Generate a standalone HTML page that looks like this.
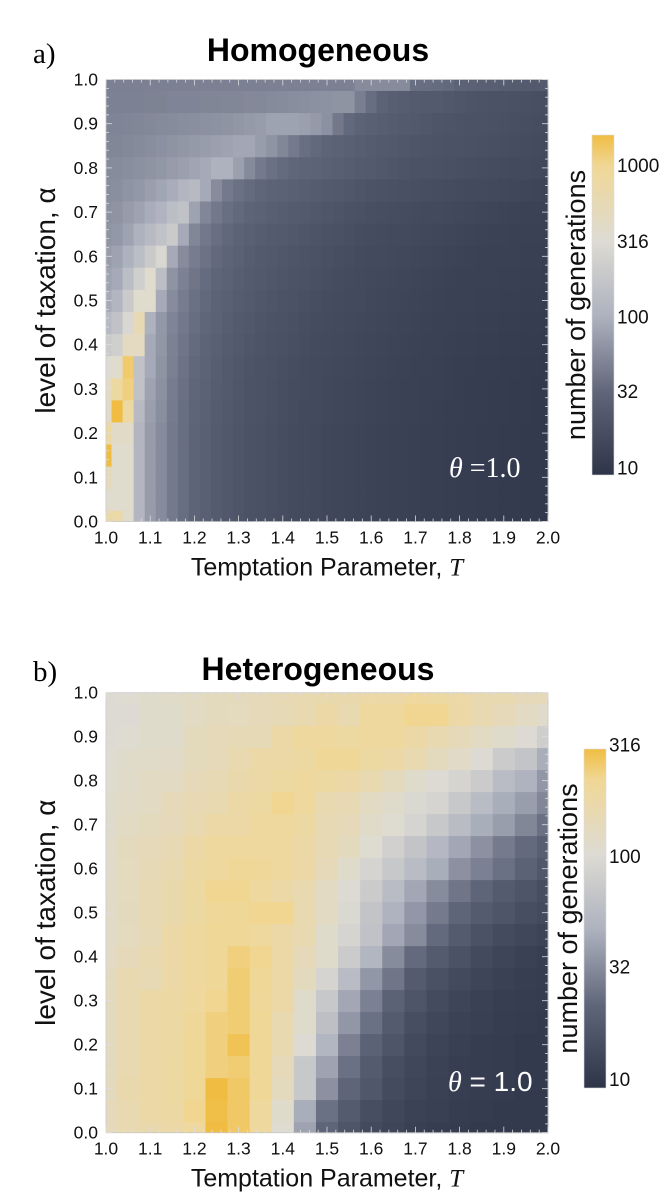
<!DOCTYPE html>
<html><head><meta charset="utf-8"><style>
html,body{margin:0;padding:0;background:#fff;}
svg{display:block;font-family:"Liberation Sans",sans-serif;}
</style></head><body>
<svg id="fig" width="664" height="1200" viewBox="0 0 664 1200" xmlns="http://www.w3.org/2000/svg">
<defs>
<linearGradient id="cbar" x1="0" y1="1" x2="0" y2="0">
<stop offset="0" stop-color="#2f3549"/><stop offset="0.244" stop-color="#60667a"/><stop offset="0.467" stop-color="#aeb2bf"/><stop offset="0.69" stop-color="#dddbd3"/><stop offset="0.91" stop-color="#f0d795"/><stop offset="1" stop-color="#f0bd42"/>
</linearGradient>
</defs>
<text x="33" y="63" font-family="Liberation Serif,serif" font-size="29">a)</text>
<text x="318" y="61" font-size="32" font-weight="bold" text-anchor="middle">Homogeneous</text>
<text x="33" y="681" font-family="Liberation Serif,serif" font-size="29">b)</text>
<text x="318" y="680" font-size="32" font-weight="bold" text-anchor="middle">Heterogeneous</text>
<g id="pA"></g>
<g id="pB"></g>
</svg>
<script>
const homTValues = [1.0,1.025,1.05,1.075,1.1,1.125,1.15,1.175,1.2,1.225,1.25,1.275,1.3,1.325,1.35,1.375,1.4,1.425,1.45,1.475,1.5,1.525,1.55,1.575,1.6,1.625,1.65,1.675,1.7,1.725,1.75,1.775,1.8,1.825,1.85,1.875,1.9,1.925,1.95,1.975,2.0];
const alphaValues = [0,0.05,0.1,0.15,0.2,0.25,0.3,0.35,0.4,0.45,0.5,0.55,0.6,0.65,0.7,0.75,0.8,0.85,0.9,0.95,1.0];
const hetTValues = [1.0,1.05,1.1,1.15,1.2,1.25,1.3,1.35,1.4,1.45,1.5,1.55,1.6,1.65,1.7,1.75,1.8,1.85,1.9,1.95,2.0];
const tickLabels = ["1.0","1.1","1.2","1.3","1.4","1.5","1.6","1.7","1.8","1.9","2.0"];
const yTickLabels = ["0.0","0.1","0.2","0.3","0.4","0.5","0.6","0.7","0.8","0.9","1.0"];
const homCbarTicks = [10,32,100,316,1000];
const hetCbarTicks = [10,32,100,316];
// log10(number of generations), rows from alpha=0 (first) to alpha=1 (last)
const homLog10Gen = [
[2.85,2.85,2.55,2.05,1.85,1.75,1.63,1.55,1.48,1.43,1.38,1.34,1.31,1.28,1.26,1.24,1.22,1.2,1.18,1.17,1.15,1.14,1.13,1.12,1.11,1.1,1.09,1.08,1.07,1.06,1.06,1.05,1.04,1.04,1.03,1.03,1.02,1.02,1.01,1.01,1.0],
[2.55,2.55,2.55,2.05,1.85,1.75,1.63,1.55,1.48,1.43,1.38,1.34,1.31,1.28,1.26,1.24,1.22,1.2,1.18,1.17,1.15,1.14,1.13,1.12,1.11,1.1,1.09,1.08,1.07,1.06,1.06,1.05,1.04,1.04,1.03,1.03,1.02,1.02,1.01,1.01,1.0],
[2.7,2.55,2.55,2.05,1.85,1.75,1.63,1.55,1.48,1.43,1.38,1.34,1.31,1.28,1.26,1.24,1.22,1.2,1.18,1.17,1.15,1.14,1.13,1.12,1.11,1.1,1.09,1.08,1.07,1.06,1.06,1.05,1.04,1.04,1.03,1.03,1.02,1.02,1.01,1.01,1.0],
[3.2,2.55,2.55,2.05,1.85,1.75,1.63,1.55,1.48,1.43,1.38,1.34,1.31,1.28,1.26,1.24,1.22,1.2,1.18,1.17,1.15,1.14,1.13,1.12,1.11,1.1,1.09,1.08,1.07,1.06,1.06,1.05,1.04,1.04,1.03,1.03,1.02,1.02,1.01,1.01,1.0],
[2.9,2.6,2.6,2.05,1.85,1.75,1.63,1.55,1.48,1.43,1.38,1.34,1.31,1.28,1.26,1.24,1.22,1.2,1.18,1.17,1.15,1.14,1.13,1.12,1.11,1.1,1.09,1.08,1.07,1.06,1.06,1.05,1.04,1.04,1.03,1.03,1.02,1.02,1.01,1.01,1.0],
[2.6,3.2,2.9,2.1,1.87,1.77,1.64,1.56,1.49,1.44,1.39,1.35,1.32,1.29,1.27,1.25,1.23,1.21,1.19,1.18,1.16,1.15,1.14,1.13,1.12,1.11,1.1,1.09,1.08,1.07,1.06,1.05,1.05,1.04,1.04,1.03,1.03,1.02,1.02,1.01,1.0],
[2.65,2.9,3.05,2.2,1.9,1.78,1.65,1.57,1.5,1.45,1.4,1.36,1.32,1.29,1.27,1.25,1.23,1.21,1.2,1.18,1.16,1.15,1.14,1.13,1.12,1.11,1.1,1.09,1.08,1.07,1.07,1.06,1.05,1.04,1.04,1.03,1.03,1.02,1.02,1.01,1.01],
[2.5,2.55,3.1,2.2,1.95,1.8,1.67,1.58,1.51,1.46,1.41,1.37,1.33,1.3,1.28,1.26,1.24,1.22,1.2,1.19,1.17,1.16,1.15,1.14,1.13,1.12,1.11,1.1,1.09,1.08,1.07,1.06,1.05,1.05,1.04,1.04,1.03,1.03,1.02,1.02,1.01],
[2.3,2.35,2.65,2.65,1.95,1.82,1.68,1.6,1.53,1.48,1.43,1.39,1.35,1.32,1.3,1.28,1.26,1.24,1.22,1.2,1.19,1.17,1.16,1.15,1.14,1.13,1.12,1.11,1.1,1.09,1.08,1.07,1.06,1.06,1.05,1.05,1.04,1.04,1.03,1.03,1.02],
[2.1,2.2,2.45,2.75,2.0,1.83,1.7,1.62,1.55,1.5,1.45,1.41,1.37,1.34,1.31,1.29,1.27,1.25,1.23,1.21,1.2,1.18,1.17,1.16,1.15,1.14,1.13,1.12,1.11,1.1,1.09,1.08,1.07,1.07,1.06,1.06,1.05,1.05,1.04,1.04,1.03],
[1.95,2.05,2.3,2.55,2.55,1.95,1.75,1.65,1.57,1.52,1.47,1.43,1.39,1.36,1.33,1.31,1.29,1.27,1.25,1.23,1.21,1.2,1.19,1.18,1.16,1.15,1.14,1.13,1.12,1.11,1.1,1.09,1.08,1.08,1.07,1.07,1.06,1.06,1.05,1.05,1.04],
[1.9,1.95,2.15,2.35,2.55,2.15,1.8,1.68,1.6,1.54,1.49,1.45,1.41,1.38,1.35,1.33,1.31,1.29,1.27,1.25,1.23,1.21,1.2,1.19,1.17,1.16,1.15,1.14,1.13,1.12,1.11,1.1,1.09,1.09,1.08,1.08,1.07,1.07,1.06,1.06,1.05],
[1.85,1.9,2.0,2.15,2.3,2.45,1.95,1.75,1.65,1.58,1.52,1.48,1.44,1.4,1.37,1.35,1.33,1.31,1.29,1.27,1.25,1.23,1.22,1.2,1.19,1.18,1.17,1.16,1.15,1.14,1.13,1.12,1.11,1.1,1.09,1.09,1.08,1.08,1.07,1.07,1.06],
[1.8,1.83,1.9,2.0,2.1,2.2,2.3,1.95,1.72,1.62,1.56,1.51,1.47,1.43,1.4,1.38,1.36,1.34,1.32,1.3,1.28,1.26,1.24,1.22,1.21,1.2,1.19,1.18,1.17,1.16,1.15,1.14,1.13,1.12,1.11,1.1,1.1,1.09,1.09,1.08,1.08],
[1.78,1.8,1.85,1.9,1.97,2.03,2.15,2.2,1.9,1.72,1.62,1.56,1.52,1.48,1.45,1.42,1.4,1.38,1.36,1.34,1.32,1.3,1.28,1.26,1.24,1.23,1.22,1.21,1.2,1.19,1.18,1.17,1.16,1.15,1.14,1.13,1.12,1.11,1.1,1.1,1.09],
[1.76,1.77,1.8,1.83,1.87,1.92,1.97,2.05,2.1,1.95,1.75,1.63,1.57,1.53,1.5,1.47,1.45,1.43,1.41,1.39,1.37,1.35,1.33,1.31,1.29,1.27,1.26,1.25,1.24,1.23,1.22,1.21,1.2,1.19,1.18,1.17,1.16,1.15,1.14,1.13,1.12],
[1.74,1.75,1.76,1.78,1.8,1.82,1.85,1.88,1.91,1.95,2.0,2.0,1.88,1.74,1.63,1.57,1.53,1.5,1.48,1.46,1.44,1.42,1.4,1.38,1.36,1.34,1.32,1.3,1.28,1.27,1.26,1.25,1.24,1.23,1.22,1.21,1.2,1.19,1.18,1.17,1.16],
[1.72,1.72,1.73,1.74,1.76,1.78,1.8,1.82,1.84,1.86,1.88,1.9,1.93,1.93,1.86,1.8,1.72,1.63,1.56,1.52,1.48,1.45,1.43,1.41,1.39,1.37,1.35,1.33,1.31,1.3,1.29,1.28,1.27,1.26,1.25,1.24,1.23,1.22,1.21,1.2,1.19],
[1.7,1.7,1.71,1.72,1.73,1.74,1.75,1.76,1.77,1.78,1.79,1.8,1.82,1.84,1.86,1.9,1.9,1.9,1.88,1.84,1.78,1.62,1.52,1.46,1.43,1.41,1.39,1.37,1.35,1.33,1.31,1.3,1.29,1.28,1.27,1.26,1.25,1.24,1.23,1.22,1.21],
[1.68,1.68,1.68,1.68,1.69,1.69,1.7,1.7,1.7,1.71,1.71,1.72,1.72,1.73,1.73,1.74,1.75,1.76,1.77,1.78,1.79,1.8,1.8,1.66,1.55,1.47,1.42,1.4,1.38,1.37,1.36,1.34,1.32,1.3,1.29,1.28,1.27,1.26,1.25,1.24,1.23],
[1.67,1.67,1.67,1.67,1.67,1.67,1.67,1.67,1.67,1.67,1.67,1.67,1.67,1.67,1.67,1.67,1.67,1.67,1.67,1.67,1.67,1.67,1.67,1.75,1.75,1.75,1.75,1.75,1.56,1.55,1.54,1.52,1.47,1.45,1.43,1.42,1.4,1.39,1.38,1.37,1.36]
];
const hetLog10Gen = [
[2.15,2.2,2.22,2.25,2.3,2.5,2.42,2.3,2.02,1.6,1.32,1.2,1.12,1.08,1.04,1.02,1.01,1.0,1.0,1.0,1.0],
[2.15,2.2,2.25,2.27,2.35,2.47,2.42,2.3,2.05,1.65,1.38,1.25,1.15,1.1,1.06,1.04,1.02,1.01,1.0,1.0,1.0],
[2.12,2.22,2.25,2.28,2.33,2.48,2.42,2.33,2.12,1.85,1.52,1.32,1.22,1.13,1.08,1.05,1.03,1.02,1.01,1.0,1.0],
[2.12,2.2,2.25,2.28,2.33,2.38,2.4,2.33,2.15,1.85,1.6,1.38,1.25,1.15,1.1,1.06,1.03,1.02,1.01,1.0,1.0],
[2.12,2.2,2.25,2.27,2.33,2.38,2.45,2.33,2.2,2.0,1.7,1.45,1.3,1.2,1.12,1.07,1.04,1.02,1.01,1.0,1.0],
[2.12,2.2,2.25,2.27,2.32,2.38,2.4,2.33,2.2,2.05,1.78,1.55,1.38,1.25,1.15,1.1,1.06,1.04,1.02,1.01,1.0],
[2.12,2.2,2.25,2.27,2.3,2.35,2.4,2.32,2.25,2.05,1.85,1.62,1.45,1.3,1.2,1.13,1.08,1.05,1.03,1.02,1.01],
[2.12,2.2,2.18,2.25,2.3,2.33,2.4,2.33,2.25,2.12,1.95,1.75,1.55,1.4,1.25,1.17,1.12,1.08,1.05,1.03,1.02],
[2.1,2.15,2.2,2.25,2.3,2.33,2.38,2.35,2.25,2.15,2.05,1.88,1.7,1.5,1.35,1.25,1.18,1.12,1.08,1.05,1.03],
[2.08,2.13,2.17,2.25,2.3,2.33,2.33,2.3,2.25,2.2,2.05,1.95,1.8,1.62,1.5,1.35,1.25,1.18,1.13,1.1,1.07],
[2.08,2.12,2.18,2.22,2.28,2.32,2.33,2.35,2.35,2.2,2.1,1.98,1.82,1.68,1.55,1.42,1.32,1.25,1.2,1.15,1.12],
[2.08,2.13,2.18,2.22,2.28,2.35,2.35,2.3,2.25,2.2,2.1,2.0,1.88,1.75,1.62,1.5,1.4,1.32,1.25,1.2,1.15],
[2.07,2.13,2.17,2.2,2.27,2.3,2.33,2.32,2.3,2.25,2.15,2.05,1.95,1.85,1.75,1.65,1.52,1.45,1.38,1.3,1.22],
[2.07,2.12,2.15,2.18,2.25,2.3,2.3,2.3,2.3,2.25,2.18,2.12,2.02,1.92,1.82,1.72,1.62,1.52,1.42,1.35,1.28],
[2.05,2.1,2.12,2.15,2.2,2.25,2.25,2.3,2.3,2.27,2.18,2.15,2.07,2.02,1.95,1.85,1.75,1.65,1.58,1.48,1.38],
[2.05,2.08,2.1,2.15,2.18,2.2,2.25,2.28,2.35,2.3,2.2,2.18,2.1,2.05,1.98,1.95,1.85,1.75,1.65,1.58,1.48],
[2.03,2.07,2.1,2.1,2.15,2.18,2.22,2.25,2.28,2.3,2.28,2.25,2.2,2.12,2.05,2.0,1.95,1.88,1.75,1.68,1.55],
[2.02,2.05,2.07,2.08,2.12,2.15,2.2,2.25,2.25,2.28,2.33,2.33,2.28,2.25,2.2,2.12,2.08,2.0,1.88,1.82,1.65],
[2.0,2.02,2.05,2.05,2.12,2.15,2.17,2.17,2.25,2.3,2.3,2.28,2.3,2.3,2.25,2.2,2.15,2.1,2.05,2.0,1.9],
[2.0,2.0,2.05,2.05,2.1,2.12,2.13,2.15,2.17,2.2,2.25,2.2,2.3,2.3,2.35,2.35,2.25,2.2,2.15,2.1,2.05],
[2.0,2.02,2.05,2.08,2.1,2.12,2.12,2.15,2.18,2.2,2.22,2.22,2.25,2.25,2.3,2.28,2.25,2.2,2.2,2.15,2.15]
];

const NS = "http://www.w3.org/2000/svg";
const stops = [[0,[0x2f,0x35,0x49]],[0.244,[0x60,0x66,0x7a]],[0.467,[0xae,0xb2,0xbf]],[0.69,[0xdd,0xdb,0xd3]],[0.91,[0xf0,0xd7,0x95]],[1,[0xf0,0xbd,0x42]]];
function cmap(t){
  t=Math.max(0,Math.min(1,t));
  for(let i=1;i<stops.length;i++){
    if(t<=stops[i][0]){
      const a=stops[i-1],b=stops[i],f=(t-a[0])/(b[0]-a[0]);
      const c=a[1].map((v,k)=>Math.round(v+(b[1][k]-v)*f));
      return "rgb("+c.join(",")+")";
    }
  }
  return "rgb(240,189,66)";
}
function mk(tag,attrs,parent){const e=document.createElementNS(NS,tag);for(const k in attrs)e.setAttribute(k,attrs[k]);parent.appendChild(e);return e;}

function panel(g,cfg){
  const xS=v=>cfg.x0+(v-1)*(cfg.x1-cfg.x0);
  const yS=v=>cfg.yb-v*(cfg.yb-cfg.yt);
  const cS=L=>(L-cfg.lmin)/(cfg.lmax-cfg.lmin);
  const dx=cfg.tv[1]-cfg.tv[0], da=alphaValues[1]-alphaValues[0];
  cfg.data.forEach((row,i)=>{
    row.forEach((L,j)=>{
      const T=cfg.tv[j], A=alphaValues[i];
      const xa=xS(Math.max(1,T-dx/2)), xb=xS(Math.min(2,T+dx/2));
      const ya=yS(Math.min(1,A+da/2)), yb=yS(Math.max(0,A-da/2));
      const r=mk("rect",{x:xa.toFixed(2),y:ya.toFixed(2),width:(xb-xa+0.4).toFixed(2),height:(yb-ya+0.4).toFixed(2),fill:cmap(cS(L))},g);
      
      
    });
  });
  const fr=mk("rect",{x:cfg.x0,y:cfg.yt,width:cfg.x1-cfg.x0,height:cfg.yb-cfg.yt,fill:"none",stroke:"#c8c8c8","stroke-width":"0.8"},g);
  
  
  for(let k=0;k<=50;k++){
    const v=k/50, len=(k%5===0)?6:3;
    const X=xS(1+v), Y=yS(v);
    mk("line",{x1:X,y1:cfg.yb,x2:X,y2:cfg.yb-len,stroke:"#ddd","stroke-width":"0.8"},g);
    mk("line",{x1:X,y1:cfg.yt,x2:X,y2:cfg.yt+len,stroke:"#ddd","stroke-width":"0.8"},g);
    mk("line",{x1:cfg.x0,y1:Y,x2:cfg.x0+len,y2:Y,stroke:"#ddd","stroke-width":"0.8"},g);
    mk("line",{x1:cfg.x1,y1:Y,x2:cfg.x1-len,y2:Y,stroke:"#ddd","stroke-width":"0.8"},g);
  }
  tickLabels.forEach((s,k)=>{
    const t=mk("text",{x:xS(1+k/10),y:cfg.yb+22,"font-size":"17.5","text-anchor":"middle",fill:"#111"},g);
    t.textContent=s;
    
    
  });
  yTickLabels.forEach((s,k)=>{
    const t=mk("text",{x:cfg.x0-8,y:yS(k/10)+6,"font-size":"17.5","text-anchor":"end",fill:"#111"},g);
    t.textContent=s;
    
    
  });
  const xt=mk("text",{x:(cfg.x0+cfg.x1)/2,y:cfg.yb+54,"font-size":"25","text-anchor":"middle",fill:"#111"},g);
  xt.innerHTML='Temptation Parameter, <tspan font-family="Liberation Serif,serif" font-style="italic">T</tspan>';
  
  
  const cy=(cfg.yt+cfg.yb)/2;
  const yt=mk("text",{x:0,y:0,"font-size":"28","text-anchor":"middle",fill:"#111",transform:`translate(55,${cy}) rotate(-90)`},g);
  yt.textContent="level of taxation, α";
  
  
  const th=mk("text",{x:cfg.thx,y:cfg.thy,"font-size":"28",fill:"#fff","font-family":cfg.thFont},g);
  th.innerHTML='<tspan font-family="Liberation Serif,serif" font-style="italic">θ</tspan>'+cfg.thText;
  
  
  const cb=mk("rect",{x:cfg.cbx,y:cfg.cbt,width:22,height:cfg.cbb-cfg.cbt,fill:"url(#cbar)",stroke:"#ddd","stroke-width":"0.6"},g);
  
  
  const cbY=L=>cfg.cbb-(L-cfg.lmin)/(cfg.lmax-cfg.lmin)*(cfg.cbb-cfg.cbt);
  cfg.cticks.forEach(v=>{
    const Y=cbY(Math.log10(v));
    const t=mk("text",{x:cfg.cbx+25,y:Y+7,"font-size":"19",fill:"#111"},g);
    t.textContent=String(v);
    
    
  });
  const ct=mk("text",{x:0,y:0,"font-size":"27","text-anchor":"middle",fill:"#111",transform:`translate(${cfg.cbx-7},${(cfg.cbt+cfg.cbb)/2}) rotate(-90)`},g);
  ct.textContent="number of generations";
  
  
}
panel(document.getElementById("pA"),{data:homLog10Gen,tv:homTValues,x0:106,x1:548,yt:79.5,yb:521.5,lmin:0.95,lmax:3.2,
  thx:449,thy:477,thFont:"Liberation Serif,serif",thText:" =1.0",cbx:592,cbt:135,cbb:475,cticks:homCbarTicks});
panel(document.getElementById("pB"),{data:hetLog10Gen,tv:hetTValues,x0:106,x1:548,yt:692.7,yb:1132.7,lmin:0.96,lmax:2.48,
  thx:448,thy:1091,thFont:"Liberation Sans,sans-serif",thText:" = 1.0",cbx:584,cbt:749,cbb:1088,cticks:hetCbarTicks});
</script>
</body></html>
